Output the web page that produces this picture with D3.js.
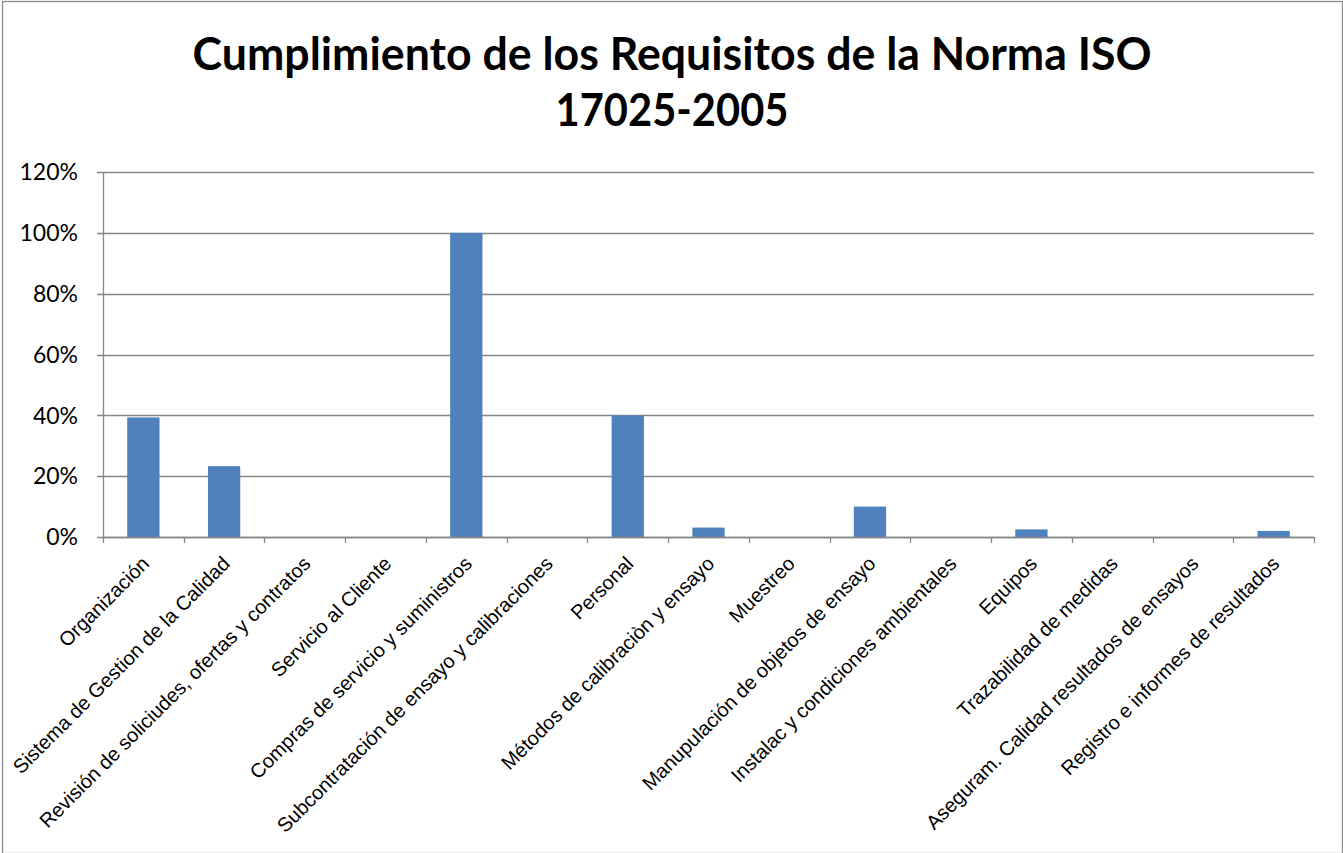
<!DOCTYPE html>
<html lang="es">
<head>
<meta charset="utf-8">
<title>Cumplimiento de los Requisitos de la Norma ISO 17025-2005</title>
<style>
  body { margin: 0; background: #fff; }
  .title { font-family: Lato, "Open Sans", sans-serif; font-weight: bold; fill: #000; }
  .ylab { font-family: Lato, "Open Sans", sans-serif; font-size: 23px; fill: #000; }
  .xlab { font-family: "Liberation Sans", Arial, sans-serif; font-size: 20px; fill: #000; }
</style>
</head>
<body>
<svg width="1343" height="853"></svg>
<script src="https://d3js.org/d3.v7.min.js"></script>
<script>

var categories = [
  "Organización",
  "Sistema de Gestion de la Calidad",
  "Revisión de soliciudes, ofertas y contratos",
  "Servicio al Cliente",
  "Compras de servicio y suministros",
  "Subcontratación de ensayo y calibraciones",
  "Personal",
  "Métodos de calibraciòn y ensayo",
  "Muestreo",
  "Manupulación de objetos de ensayo",
  "Instalac y condiciones ambientales",
  "Equipos",
  "Trazabilidad de medidas",
  "Aseguram. Calidad resultados de ensayos",
  "Registro e informes de resultados"
];

var values = [0.393, 0.233, 0, 0, 1.0, 0, 0.40, 0.031, 0, 0.10, 0, 0.025, 0, 0, 0.02];

var yTicks = [0, 0.2, 0.4, 0.6, 0.8, 1.0, 1.2];

var titleLines = ["Cumplimiento de los Requisitos de la Norma ISO", "17025-2005"];

var svg = d3.select("svg"),
    width = +svg.attr("width"),
    height = +svg.attr("height");

var margin = {top: 172, left: 103, right: 29, bottom: 316};
var plotW = width - margin.left - margin.right,
    plotH = height - margin.top - margin.bottom;

// outer chart border
svg.append("rect")
  .attr("x", 2.5).attr("y", 1.5)
  .attr("width", width - 3).attr("height", height - 1)
  .attr("fill", "#fff")
  .attr("stroke", "#8c8c8c")
  .attr("stroke-width", 1.3);

// title
svg.append("text")
  .attr("class", "title")
  .attr("text-anchor", "middle")
  .selectAll("tspan")
  .data(titleLines)
  .enter().append("tspan")
    .attr("x", 672)
    .attr("y", function(d, i) { return 70 + i * 56; })
    .style("font-size", "46px")
    .attr("textLength", function(d, i) { return i === 0 ? 959 : 233; })
    .attr("lengthAdjust", "spacingAndGlyphs")
    .text(function(d) { return d; });

var g = svg.append("g").attr("transform", "translate(" + margin.left + "," + margin.top + ")");

var x = d3.scaleBand()
  .domain(categories)
  .range([0, plotW])
  .paddingInner(0.6)
  .paddingOuter(0.3);

var xb = d3.scaleBand().domain(categories).range([0, plotW]);

var y = d3.scaleLinear()
  .domain([0, 1.2])
  .range([plotH, 0]);

// gridlines
g.append("g")
  .selectAll("line")
  .data(yTicks)
  .enter().append("line")
    .attr("x1", -6).attr("x2", plotW)
    .attr("y1", function(d) { return Math.round(y(d)) + 0.5; })
    .attr("y2", function(d) { return Math.round(y(d)) + 0.5; })
    .attr("stroke", "#878787")
    .attr("stroke-width", 1.3);

// y axis labels
g.append("g")
  .selectAll("text")
  .data(yTicks)
  .enter().append("text")
    .attr("class", "ylab")
    .attr("x", -25)
    .attr("y", function(d) { return y(d); })
    .attr("dy", "0.36em")
    .attr("text-anchor", "end")
    .text(d3.format(".0%"));

// y axis line
g.append("line")
  .attr("x1", 0.5).attr("x2", 0.5)
  .attr("y1", 0).attr("y2", plotH)
  .attr("stroke", "#878787")
  .attr("stroke-width", 1.3);

// bars
g.append("g")
  .selectAll("rect")
  .data(values)
  .enter().append("rect")
    .attr("x", function(d, i) { return x(categories[i]); })
    .attr("width", x.bandwidth())
    .attr("y", function(d) { return y(d); })
    .attr("height", function(d) { return plotH - y(d); })
    .attr("fill", "#4f81bd");

// x axis line and ticks
g.append("line")
  .attr("x1", 0).attr("x2", plotW)
  .attr("y1", plotH + 0.5).attr("y2", plotH + 0.5)
  .attr("stroke", "#878787")
  .attr("stroke-width", 1.3);

var tickPos = categories.map(function(c) { return xb(c); }).concat([plotW]);
g.append("g")
  .selectAll("line")
  .data(tickPos)
  .enter().append("line")
    .attr("x1", function(d) { return Math.round(d) + 0.5; })
    .attr("x2", function(d) { return Math.round(d) + 0.5; })
    .attr("y1", plotH).attr("y2", plotH + 6)
    .attr("stroke", "#878787")
    .attr("stroke-width", 1.3);

// category labels, rotated
g.append("g")
  .selectAll("text")
  .data(categories)
  .enter().append("text")
    .attr("class", "xlab")
    .attr("text-anchor", "end")
    .attr("transform", function(d) {
      var cx = xb(d) + xb.bandwidth() / 2 + 7;
      return "translate(" + cx + "," + (plotH + 28) + ") rotate(-45)";
    })
    .text(function(d) { return d; });

</script>
</body>
</html>
